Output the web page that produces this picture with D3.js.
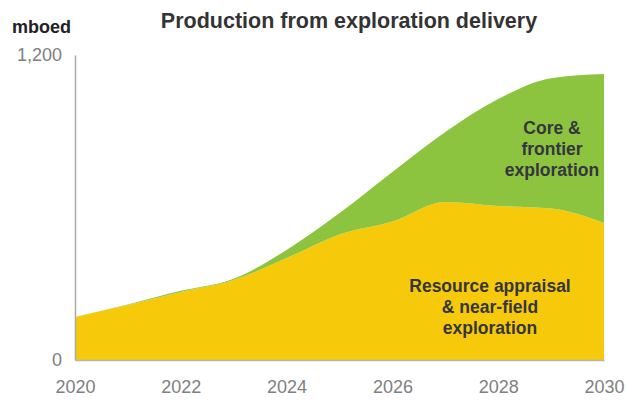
<!DOCTYPE html>
<html>
<head>
<meta charset="utf-8">
<script src="https://cdn.jsdelivr.net/npm/d3@7"></script>
<style>
  html, body { margin: 0; padding: 0; background: #ffffff; }
  svg { display: block; }
</style>
</head>
<body>
<svg id="chart" width="626" height="400"></svg>
<script>
// Production from exploration delivery (mboed), 2020–2030
const years = [2020, 2021, 2022, 2023, 2024, 2025, 2026, 2027, 2028, 2029, 2030];
const resourceAppraisal = [169, 216, 268, 315, 401, 494, 545, 622, 606, 596, 539];
const coreFrontier      = [0, 2, 4, 5, 32, 84, 195, 275, 421, 513, 586];
const xTickLabels = ["2020", "2022", "2024", "2026", "2028", "2030"];
const yTickValues = [0, 1200];

const svg = d3.select("#chart");
const plotLeft = 75, plotRight = 604, plotTop = 55, plotBottom = 360;

const x = d3.scaleLinear().domain([2020, 2030]).range([plotLeft, plotRight]);
const y = d3.scaleLinear().domain([0, 1200]).range([plotBottom, plotTop]);

const rows = years.map((yr, i) => ({ year: yr, ra: resourceAppraisal[i], cf: coreFrontier[i] }));
const layers = d3.stack().keys(["ra", "cf"])(rows);
const colors = ["#f6ca0a", "#8dc43f"];

const area = d3.area()
  .x(d => x(d.data.year))
  .y0(d => y(d[0]))
  .y1(d => y(d[1]))
  .curve(d3.curveMonotoneX);

svg.append("g").selectAll("path")
  .data(layers)
  .join("path")
  .attr("d", area)
  .attr("fill", (d, i) => colors[i]);

const font = "Liberation Sans, Arial, sans-serif";

// Axes
const yAxis = d3.axisLeft(y).tickValues(yTickValues).tickSize(0).tickPadding(13)
  .tickFormat(d3.format(","));
const gy = svg.append("g").attr("transform", `translate(${plotLeft},0)`).call(yAxis);
gy.select(".domain").attr("stroke", "#aaaaaa").attr("stroke-width", 1.5);
gy.selectAll("text").attr("fill", "#808080").style("font-family", font).style("font-size", "18px");

const xAxis = d3.axisBottom(x).tickValues(xTickLabels.map(Number)).tickSize(0).tickPadding(20)
  .tickFormat(d3.format("d"));
const gx = svg.append("g").attr("transform", `translate(0,${plotBottom})`).call(xAxis);
gx.select(".domain").attr("stroke", "#b5b5b5").attr("stroke-width", 1.5);
gx.selectAll("text").attr("fill", "#808080").style("font-family", font).style("font-size", "18px");

// Title and unit
svg.append("text")
  .attr("x", 349).attr("y", 28)
  .attr("text-anchor", "middle")
  .attr("fill", "#333")
  .style("font-family", font)
  .style("font-weight", "bold").style("font-size", "21.5px")
  .text("Production from exploration delivery");

svg.append("text")
  .attr("x", 12).attr("y", 33)
  .attr("fill", "#222")
  .style("font-family", font)
  .style("font-weight", "bold").style("font-size", "18px")
  .text("mboed");

// Series labels inside the areas
function multiLine(lines, cx, y0, dy) {
  const t = svg.append("text")
    .attr("text-anchor", "middle")
    .attr("fill", "#35353f")
    .style("font-family", font)
    .style("font-weight", "bold").style("font-size", "17.5px");
  lines.forEach((s, i) => t.append("tspan").attr("x", cx).attr("y", y0 + i * dy).text(s));
}
multiLine(["Core &", "frontier", "exploration"], 552, 134, 21);
multiLine(["Resource appraisal", "& near-field", "exploration"], 490, 292, 21);
</script>
</body>
</html>
